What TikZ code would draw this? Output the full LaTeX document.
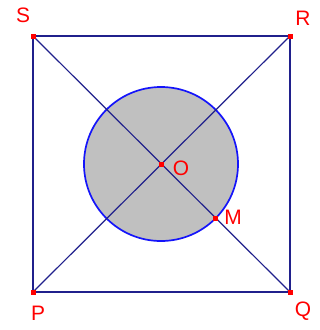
\documentclass[tikz,border=0pt]{standalone}
\usepackage{fontspec}
\setmainfont{Liberation Sans}
\usetikzlibrary{calc}
\definecolor{navy}{RGB}{32,32,140}
\definecolor{ringblue}{RGB}{20,20,250}
\definecolor{discgray}{RGB}{192,192,192}
\begin{document}
\begin{tikzpicture}[x=1bp,y=-1bp,
    side/.style={draw=navy,line width=1.8bp},
    diag/.style={draw=navy,line width=1.2bp},
    pt/.style={fill=red,minimum size=5bp,inner sep=0pt},
    lbl/.style={text=red,font=\fontsize{21}{21}\selectfont,inner sep=0pt}]
    \useasboundingbox (0,0) rectangle (320,330);
    % corners, centre and point on the circle
    \coordinate (S) at (33,36);
    \coordinate (R) at (290,36);
    \coordinate (P) at (33,292);
    \coordinate (Q) at (290,292);
    \coordinate (O) at (161,164);
    \coordinate (M) at ($(O)+(45:77)$);
    % shaded disc
    \fill[discgray] (O) circle (77);
    \draw[ringblue,line width=1.7bp] (O) circle (77);
    % square and diagonals
    \draw[side] (S) -- (R) -- (Q) -- (P) -- cycle;
    \draw[diag] (S) -- (Q);
    \draw[diag] (P) -- (R);
    % marked points
    \foreach \p in {S,R,P,Q,O,M}
        \node[pt] at (\p) {};
    % labels
    \node[lbl] (lS) at (23,15) {S};
    \node[lbl] (lR) at (303,18) {R};
    \node[lbl] (lP) at (38,313) {P};
    \node[lbl] (lQ) at (303,311) {Q};
    \node[lbl] (lO) at (181,168) {O};
    \node[lbl] (lM) at (233,217) {M};
\end{tikzpicture}
\end{document}
